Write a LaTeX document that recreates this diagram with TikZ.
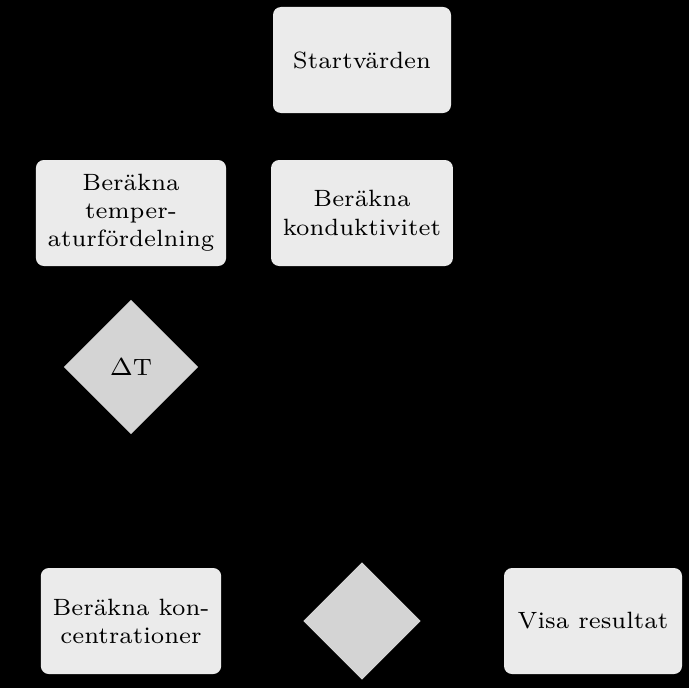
\documentclass[tikz,border=0pt]{standalone}
\usetikzlibrary{shapes.geometric}
\begin{document}
\begin{tikzpicture}[x=0.01cm,y=-0.01cm,
  box/.style={draw=none,fill=black!8,rounded corners=8*0.01cm,minimum width=178*0.01cm,minimum height=106*0.01cm,align=center,font=\fontsize{6.7}{8}\selectfont},
  dia/.style={diamond,fill=black!17,draw=none,minimum width=#1*0.01cm,minimum height=#1*0.01cm,inner sep=0pt,font=\fontsize{6.7}{8}\selectfont}]
\fill[black] (0,0) rectangle (689,688);
\useasboundingbox (0,0) rectangle (689,688);
\node[box] (start) at (362,60) {Startvärden};
\node[box] (temp) at (131,213) {Beräkna\\temper-\\aturfördelning};
\node[box] (kond) at (362,213) {Beräkna\\konduktivitet};
\node[dia=135] (dt) at (131,367) {$\Delta$T};
\node[box] (konc) at (131,621) {Beräkna kon-\\centrationer};
\node[dia=118] (d2) at (362,621) {};
\node[box] (visa) at (593,621) {Visa resultat};
\end{tikzpicture}
\end{document}
